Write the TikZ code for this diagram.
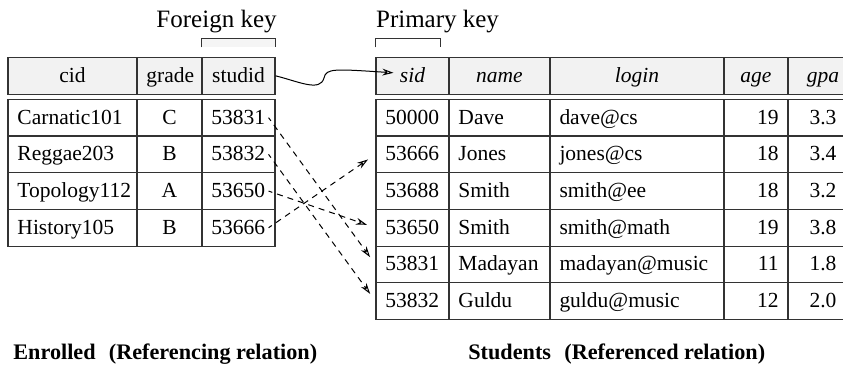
\documentclass[tikz,border=0pt]{standalone}
\usepackage{fontspec}
\setmainfont{Liberation Serif}
\usetikzlibrary{arrows.meta,positioning,calc}

\tikzset{
  cell/.style={draw=black!80, line width=0.55pt, inner xsep=4.75pt, inner ysep=0pt,
    minimum height=18.35pt, text height=0.75em, text depth=0.1em},
  head/.style={cell, fill=gray!10, minimum height=18.5pt},
  keybox/.style={draw=black!80, line width=0.55pt},
  title/.style={inner sep=0pt, font=\fontsize{12.5}{15}\selectfont},
  caption/.style={inner sep=0pt, font=\fontsize{11.1}{14}\selectfont\bfseries},
  fkey/.style={line width=0.5pt, dash pattern=on 3pt off 2.5pt, dash phase=1pt},
}

\begin{document}
\begin{tikzpicture}[x=0.5pt,y=-0.5pt,font=\fontsize{10.75}{13}\selectfont,
  >={Stealth[open,length=5.5pt,width=3.4pt]}]
\useasboundingbox (0,0) rectangle (843,370);

% Enrolled (left table)
\node[head, text width=55pt, align=center] (cid-h) at (72.5,75.8) {cid};
\node[head, text width=23pt, align=center] (grade-h) at (169.5,75.8) {grade};
\node[head, text width=27pt, align=center] (stu-h) at (238.5,75.8) {studid};
\foreach \course/\grade/\num [count=\i] in {Carnatic101/C/53831, Reggae203/B/53832,
    Topology112/A/53650, History105/B/53666}{
  \node[cell, text width=55pt, align=left] (cid-\i) at (72.5,80.95+36.7*\i) {\course};
  \node[cell, text width=23pt, align=center] (grade-\i) at (169.5,80.95+36.7*\i) {\grade};
  \node[cell, text width=27pt, align=left] (stu-\i) at (238.5,80.95+36.7*\i) {\num};
}

% Students (right table)
\node[head, text width=27pt, align=center] (sid-h) at (412.5,75.8) {\itshape sid};
\node[head, text width=41pt, align=center] (name-h) at (499.5,75.8) {\itshape name};
\node[head, text width=77.5pt, align=center] (login-h) at (637,75.8) {\itshape login};
\node[head, text width=22.5pt, align=center] (age-h) at (756,75.8) {\itshape age};
\node[head, text width=25.5pt, align=center] (gpa-h) at (823,75.8) {\itshape gpa};
\foreach \num/\name/\login/\age/\gpa [count=\i] in {50000/Dave/dave@cs/19/3.3,
    53666/Jones/jones@cs/18/3.4, 53688/Smith/smith@ee/18/3.2,
    53650/Smith/smith@math/19/3.8, 53831/Madayan/madayan@music/11/1.8,
    53832/Guldu/guldu@music/12/2.0}{
  \node[cell, text width=27pt, align=left] (sid-\i) at (412.5,80.95+36.7*\i) {\num};
  \node[cell, text width=41pt, align=left] (name-\i) at (499.5,80.95+36.7*\i) {\name};
  \node[cell, text width=77.5pt, align=left] (login-\i) at (637,80.95+36.7*\i) {\login};
  \node[cell, text width=22.5pt, align=right] (age-\i) at (756,80.95+36.7*\i) {\age};
  \node[cell, text width=25.5pt, align=center] (gpa-\i) at (823,80.95+36.7*\i) {\gpa};
}

% key brackets and titles
\draw[keybox, fill=gray!8] ([yshift=4.65pt]stu-h.north west) -- ([yshift=9pt]stu-h.north west)
  -- ([yshift=9pt]stu-h.north east) -- ([yshift=4.65pt]stu-h.north east);
\draw[keybox] ([yshift=4.65pt]sid-h.north west) -- ([yshift=9pt]sid-h.north west)
  -- ([xshift=-4.5pt,yshift=9pt]sid-h.north east) -- ([xshift=-4.5pt,yshift=4.65pt]sid-h.north east);
\node[title, anchor=base east] (fk) at (277,27) {Foreign key};
\node[title, anchor=base west] (pk) at (375.7,27) {Primary key};

% references
\coordinate (pk-in) at ([xshift=9pt,yshift=1.5pt]sid-h.west);
\draw[->, line width=0.5pt] (stu-h.east) .. controls (300,82) and (320,92) .. (324,78)
  .. controls (326,68) and (335,69) .. (pk-in);
\foreach \a/\b in {1/5, 2/6, 3/4, 4/2}
  \draw[fkey, ->, shorten >=4.5pt] ([xshift=-3.5pt]stu-\a.east) -- (sid-\b.west);

% captions
\node[caption, anchor=base west] (enr) at (13,359) {Enrolled\hspace{0.6em}(Referencing relation)};
\node[caption, anchor=base west] (stud) at (468,359) {Students\hspace{0.6em}(Referenced relation)};
\end{tikzpicture}
\end{document}
